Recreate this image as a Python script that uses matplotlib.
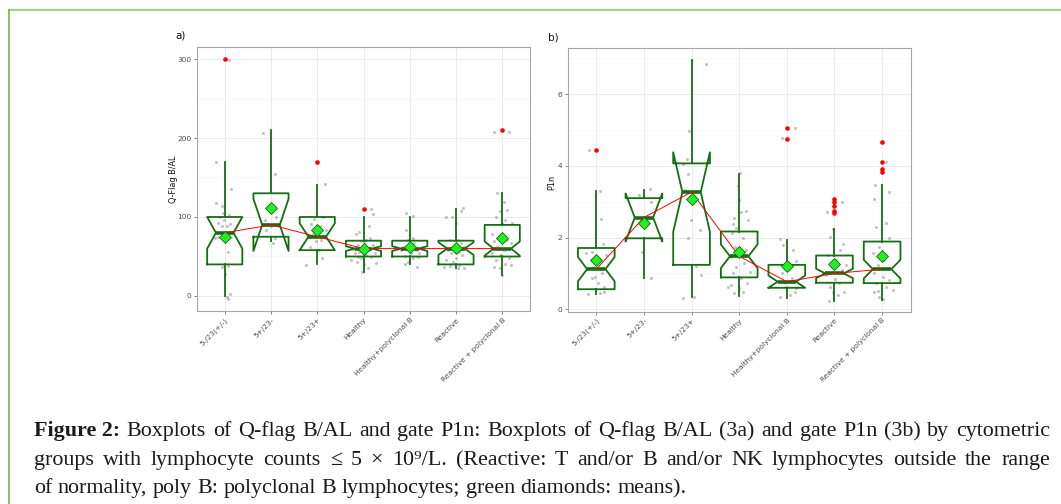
import matplotlib
matplotlib.use("Agg")
import matplotlib.pyplot as plt
from matplotlib.lines import Line2D

categories = ["5-/23(+/-)", "5+/23-", "5+/23+", "Healthy", "Healthy+polyclonal B",
              "Reactive", "Reactive + polyclonal B"]

# ---------------- panel a: Q-Flag B/AL ----------------
a_q1 = [40, 75, 58, 50, 50, 40, 50]
a_med = [80, 90, 75, 60, 60, 60, 60]
a_q3 = [100, 130, 100, 70, 70, 70, 90]
a_whislo = [0, 70, 40, 30, 40, 36, 26]
a_whishi = [170, 210, 140, 100, 100, 110, 130]
a_cilo = [60, 57, 58, 57, 57, 52, 51]
a_cihi = [100, 123, 92, 63, 63, 68, 69]
a_mean = [75, 112, 83, 60, 62, 61, 73]
a_outliers = [[300], [], [170], [110], [], [], [210]]

a_pts_dx = [
    [.09, -.18, -.19, -.05, .13, -.11, .09, -.14, .04, -.07, .11, -.22, .07, -.05, .07, 0, .04, .07, .12, -.04, -.14, -.02],
    [-.17, .09, -.11, .08, .04, -.06, .01, -.14, .11],
    [.16, -.24, .11, .04, -.02, -.13, .12, -.08, .05, -.09, .19, -.15, .09],
    [.17, .2, .11, -.09, -.16, .13, .06, -.05, -.12, .02, .11, -.09, -.19, .06, -.05, .17, -.14, .02, .09, -.03, .24, -.23, 0, .2, -.12, -.27, .27],
    [-.08, .06, -.08, .06, -.04, .1, -.15, .14, .03, -.11, .17, -.04, -.11, .15, .06, -.19, .21],
    [.11, .16, -.22, -.09, -.01, -.14, .04, .11, -.07, .18, -.18, .07, -.11, .14, 0, -.22, -.07, .07, -.14, .04, .18, -.27],
    [-.18, .14, -.11, .04, .11, -.04, -.14, .07, 0, .22, -.22, -.07, .11, -.18, .18, -.11, .04, -.22, -.04, .14, -.14, .07, -.18, .18, -.04, 0],
]
a_pts_y = [
    [299, 169, 118, 114, 136, 100, 103, 93, 88, 89, 91, 73, 56, 37, 38, 28, -1, -3.4, 2.5, 105, 75, 96],
    [206, 155, 83, 73, 67, 91, 88, 96, 100],
    [142, 39, 48, 58, 69, 91, 100, 98, 88, 79, 84, 62, 71],
    [110, 104, 88, 81, 79, 74, 71, 69, 65, 62, 58, 56, 54, 52, 48, 49, 43, 41, 35, 31, 54, 60, 67, 65, 49, 46, 42],
    [105, 101, 84, 73, 71, 67, 62, 58, 54, 50, 49, 43, 41, 37, 48, 58, 54],
    [107, 112, 100, 100, 92, 71, 71, 67, 62, 62, 58, 56, 54, 52, 48, 46, 43, 39, 38, 36, 36, 37],
    [208, 207, 130, 119, 109, 107, 100, 96, 92, 92, 79, 75, 71, 69, 67, 62, 58, 54, 52, 48, 45, 41, 37, 39, 35, 27],
]

# ---------------- panel b: P1n ----------------
b_q1 = [0.56, 1.98, 1.24, 0.89, 0.60, 0.74, 0.73]
b_med = [1.12, 2.56, 3.27, 1.48, 0.77, 1.00, 1.12]
b_q3 = [1.71, 3.10, 4.07, 2.17, 1.24, 1.50, 1.89]
b_whislo = [0.43, 0.88, 0.33, 0.38, 0.31, 0.23, 0.26]
b_whishi = [3.29, 3.33, 6.96, 3.78, 1.93, 2.23, 3.46]
b_cilo = [0.78, 1.89, 2.16, 1.15, 0.60, 0.87, 0.86]
b_cihi = [1.46, 3.23, 4.38, 1.81, 0.94, 1.13, 1.38]
b_mean = [1.37, 2.42, 3.08, 1.59, 1.22, 1.26, 1.49]
b_outliers = [[4.43], [], [], [], [5.05, 4.75], [3.08, 3.0, 2.88, 2.73, 2.68], [4.67, 4.12, 3.9, 3.82]]

b_pts_dx = [
    [-.15, .07, .1, -.08, .14, .03, -.14, -.03, .03, -.1, .17, -.17, .07, .17, -.07, .13, -.21, .21],
    [.12, -.1, .15, -.03, .14, .05],
    [.31, -.06, -.1, -.17, -.08, -.13, -.08, .18, .1, .19, -.18, .06, -.01],
    [.02, -.03, -.01, .15, .04, -.1, .18, -.13, -.06, -.15, .08, -.08, .15, .01, -.17, .11, -.06, -.13, .04, .16, -.17, -.01, -.1, .08, -.24, .22],
    [.17, -.11, -.15, -.08, .13, .2, .03, -.11, .1, -.04, .19, -.15, .06, .17, -.01],
    [-.15, .15, -.03, -.1, .18, .11, -.13, .04, -.06, .15, -.17, .01, .1, -.1, .2, -.03, -.11, .08, -.24, .25],
    [-.02, .08, -.14, .14, -.18, .08, -.13, .15, -.06, -.2, .05, -.09, .12, -.16, .01, .15, -.13, .08, -.09, -.06, .01, -.16, .22],
]
b_pts_y = [
    [4.43, 3.31, 2.52, 1.61, 1.82, 1.38, 1.14, 0.91, 0.73, 0.87, 0.63, 0.43, 0.45, 0.49, 1.19, 1.0, 1.56, 1.52],
    [3.35, 3.19, 2.98, 1.61, 0.88, 2.49],
    [6.84, 4.96, 4.19, 4.05, 3.78, 3.33, 1.98, 2.2, 1.21, 0.96, 0.31, 0.35, 2.5],
    [3.8, 3.44, 3.05, 2.74, 2.7, 2.56, 2.49, 2.38, 2.26, 2.12, 1.98, 1.75, 1.66, 1.56, 1.45, 1.28, 1.19, 1.0, 0.87, 0.73, 0.68, 0.59, 0.45, 0.47, 0.63, 1.03],
    [5.05, 4.77, 1.96, 1.8, 1.66, 1.36, 1.14, 1.0, 0.87, 0.73, 0.59, 0.35, 0.4, 0.49, 0.63],
    [2.71, 3.0, 2.23, 2.03, 1.82, 1.66, 1.52, 1.38, 1.19, 1.1, 0.96, 0.84, 0.73, 0.63, 0.47, 0.49, 0.24, 0.4, 1.0, 1.24],
    [4.67, 4.12, 3.47, 3.27, 3.08, 2.4, 2.29, 1.98, 1.75, 1.56, 1.38, 1.24, 1.14, 1.0, 0.91, 0.82, 0.73, 0.63, 0.52, 0.35, 0.28, 0.47, 0.54],
]

caption_bold = "Figure 2:"
caption_lines = [
    "Boxplots of Q-flag B/AL and gate P1n: Boxplots of Q-flag B/AL (3a) and gate P1n (3b) by cytometric",
    "groups with lymphocyte counts \u2264 5 \u00d7 10\u2079/L. (Reactive: T and/or B and/or NK lymphocytes outside the range",
    "of normality, poly B: polyclonal B lymphocytes; green diamonds: means).",
]

BOX_GREEN = "#146e14"
W, H = 1061, 504
fig = plt.figure(figsize=(W / 100, H / 100), dpi=100)
fig.patch.set_facecolor("white")


def panel(rect, q1, med, q3, wlo, whi, cilo, cihi, mean, outl, pdx, py,
          ylim, yticks, yminor, ylabel, ylabel_xy, tag, tag_xy, width):
    ax = fig.add_axes(rect)
    pos = list(range(1, len(categories) + 1))
    stats = []
    for i in range(len(categories)):
        stats.append(dict(med=med[i], q1=q1[i], q3=q3[i], whislo=wlo[i], whishi=whi[i],
                          cilo=cilo[i], cihi=cihi[i], mean=mean[i], fliers=outl[i]))
    for i, p in enumerate(pos):
        xs = [p + d for d in pdx[i]]
        ax.scatter(xs, py[i], s=5, color="#555555", alpha=0.35, lw=0, zorder=2)
    ax.bxp(stats, positions=pos, widths=width, shownotches=True, showcaps=False,
           showmeans=True, patch_artist=False,
           boxprops=dict(color=BOX_GREEN, lw=1.3),
           whiskerprops=dict(color=BOX_GREEN, lw=1.3),
           medianprops=dict(color=BOX_GREEN, lw=2.6, solid_capstyle="butt"),
           meanprops=dict(marker="D", markersize=6, markerfacecolor="#22ee22",
                          markeredgecolor="#116611", markeredgewidth=0.6),
           flierprops=dict(marker="o", markersize=3.3, markerfacecolor="red",
                           markeredgewidth=0), manage_ticks=False, zorder=3)
    ax.plot(pos, med, color="red", lw=0.7, zorder=4)
    for ln in ax.lines:
        if ln.get_marker() == "D":
            ln.set_zorder(5)
    ax.set_xlim(0.4, len(categories) + 0.6)
    ax.set_ylim(*ylim)
    ax.set_yticks(yticks)
    ax.set_yticklabels([str(t) for t in yticks])
    ax.set_yticks(yminor, minor=True)
    ax.set_xticks(pos)
    ax.set_xticklabels(categories, rotation=45, ha="right", va="top",
                       rotation_mode="anchor")
    ax.grid(True, which="major", color="#ebebeb", lw=0.7)
    ax.grid(True, which="minor", axis="y", color="#f4f4f4", lw=0.5)
    ax.set_axisbelow(True)
    ax.tick_params(axis="both", which="major", labelsize=5.3, labelcolor="#4d4d4d",
                   color="#555555", length=2.5, width=0.5, pad=1.5)
    ax.tick_params(axis="y", which="minor", length=0)
    for s in ax.spines.values():
        s.set_color("#a6a6a6")
        s.set_linewidth(0.8)
    fig.text(ylabel_xy[0] / W, 1 - ylabel_xy[1] / H, ylabel, rotation=90,
             ha="center", va="center", fontsize=5.9, color="#111111")
    fig.text(tag_xy[0] / W, 1 - tag_xy[1] / H, tag, ha="left", va="center",
             fontsize=7.5, color="#111111")
    return ax


panel([197 / W, 1 - 311 / H, 333 / W, 264 / H], a_q1, a_med, a_q3, a_whislo, a_whishi,
      a_cilo, a_cihi, a_mean, a_outliers, a_pts_dx, a_pts_y,
      (-19, 315.2), [0, 100, 200, 300], [50, 150, 250], "Q-Flag B/AL", (174, 179),
      "a)", (175, 36), 0.76)

panel([567.7 / W, 1 - 311.7 / H, 343 / W, 263.4 / H], b_q1, b_med, b_q3, b_whislo, b_whishi,
      b_cilo, b_cihi, b_mean, b_outliers, b_pts_dx, b_pts_y,
      (-0.067, 7.28), [0, 2, 4, 6], [1, 3, 5, 7], "P1n", (552, 182),
      "b)", (548, 38), 0.77)

# frame lines of the figure box
fig.add_artist(Line2D([8.5 / W, 1.0], [1 - 9.8 / H, 1 - 9.8 / H], color="#a9d18e",
                      lw=1.6, transform=fig.transFigure))
fig.add_artist(Line2D([8.8 / W, 8.8 / W], [1 - 9.8 / H, 0], color="#76b551",
                      lw=1.2, transform=fig.transFigure))

# caption: lines 1 and 2 justified between x=34 and x=1050 px, line 3 left aligned
serif = ["Liberation Serif", "DejaVu Serif"]
fs = 15.8
x_left, x_right = 34.0, 1050.0
baselines = [436, 465, 493]
renderer = fig.canvas.get_renderer()


def put_words(words, yb, x_start, justify, first_bold=None):
    items = []
    if first_bold:
        items.append((first_bold, "bold"))
    items += [(w, "normal") for w in words]
    texts = []
    widths = []
    for w, wt in items:
        t = fig.text(0, 1 - yb / H, w, fontsize=fs, family=serif, weight=wt,
                     va="baseline", ha="left", color="#1a1a1a")
        texts.append(t)
        widths.append(t.get_window_extent(renderer).width)
    space = fig.text(0, 0, "a a", fontsize=fs, family=serif)
    sp_w = space.get_window_extent(renderer).width
    a_t = fig.text(0, 0, "aa", fontsize=fs, family=serif)
    sp_w -= a_t.get_window_extent(renderer).width
    space.remove()
    a_t.remove()
    if justify and len(texts) > 1:
        gap = (x_right - x_start - sum(widths)) / (len(texts) - 1)
    else:
        gap = sp_w
    x = x_start
    for t, w in zip(texts, widths):
        t.set_x(x / W)
        x += w + gap


put_words(caption_lines[0].split(" "), baselines[0], x_left, True, caption_bold)
put_words(caption_lines[1].split(" "), baselines[1], x_left, True)
put_words(caption_lines[2].split(" "), baselines[2], x_left, False)

fig.savefig("out.png", dpi=100, facecolor="white")
